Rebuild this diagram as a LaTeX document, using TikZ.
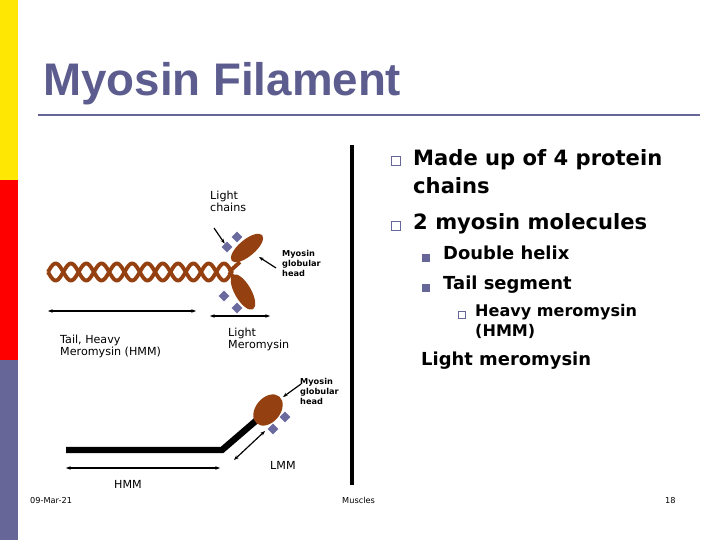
\documentclass[tikz,border=0pt]{standalone}
\usepackage{fontspec}
\setmainfont{DejaVu Sans}
\newfontfamily\titlefont{Liberation Sans}
\usetikzlibrary{arrows.meta,shapes.geometric}
\definecolor{slate}{HTML}{5C5C8E}
\definecolor{brown}{HTML}{944010}
\definecolor{dia}{HTML}{6A6A9E}
\definecolor{bar}{HTML}{666699}
\begin{document}
\begin{tikzpicture}[x=0.03cm,y=-0.03cm,
  lbl/.style={inner sep=0,anchor=north west,align=left,font=\fontsize{9.5}{10.5}\selectfont},
  tiny/.style={inner sep=0,anchor=north west,align=left,font=\bfseries\fontsize{7}{8.5}\selectfont},
  btxt/.style={inner sep=0,anchor=north west,align=left,font=\bfseries\fontsize{18}{24}\selectfont},
  stxt/.style={inner sep=0,anchor=north west,align=left,font=\bfseries\fontsize{15.3}{18}\selectfont},
  foot/.style={inner sep=0,anchor=north west,font=\fontsize{7}{8}\selectfont},
  obul/.style={draw=bar,line width=0.8pt,minimum size=7pt,inner sep=0},
  fbul/.style={fill=bar,minimum size=6pt,inner sep=0},
  dmd/.style={fill=dia,rotate=45,minimum size=6.5pt,inner sep=0},
  dbl/.style={{Stealth[length=4pt]}-{Stealth[length=4pt]},line width=1pt},
  arr/.style={-{Stealth[length=4pt]},line width=1pt},
  head/.style={fill=brown,ellipse,inner sep=0}]
\useasboundingbox (0,0) rectangle (720,540);
\fill[yellow!90!orange] (0,0) rectangle (18,180);
\fill[red] (0,180) rectangle (18,360);
\fill[bar] (0,360) rectangle (18,540);
\node[inner sep=0,anchor=west,text=slate,font=\titlefont\bfseries\fontsize{39}{42}\selectfont] (title) at (43,84) {Myosin Filament};
\draw[bar,line width=2pt] (38,115) coordinate (u1) -- (700,115) coordinate (u2);
\draw[line width=4pt] (352,145) coordinate (v1) -- (352,485) coordinate (v2);
% bullets
\node[obul] (b1) at (396,161) {};
\node[btxt] (t1) at (413,149) {Made up of 4 protein\\chains};
\node[obul] (b2) at (396,226) {};
\node[btxt] (t2) at (413,213) {2 myosin molecules};
\node[fbul] (b3) at (426,258) {};
\node[stxt] (t3) at (443,246) {Double helix};
\node[fbul] (b4) at (426,288) {};
\node[stxt] (t4) at (443,276) {Tail segment};
\node[obul,minimum size=6pt] (b5) at (462,315) {};
\node[stxt,font=\bfseries\fontsize{13.7}{17}\selectfont] (t5) at (475,304) {Heavy meromysin\\(HMM)};
\node[stxt] (t6) at (421,352) {Light meromysin};
% helix
\foreach \s in {1,-1}
  \draw[brown,line width=3.3pt,domain=48:232,samples=200,smooth] plot (\x,{272+\s*8.5*sin(deg((\x-48)*pi/15.3))});
\draw[brown,line width=3.3pt] (229,272) -- (240,262) (229,272) -- (240,284);
\node[head,minimum width=34pt,minimum height=14pt,rotate=40] (h1) at (247,248) {};
\node[head,minimum width=34pt,minimum height=14pt,rotate=-60] (h2) at (243,292) {};
\node[dmd] (d1) at (227,247) {};
\node[dmd] (d2) at (237,237) {};
\node[dmd] (d3) at (224,296) {};
\node[dmd] (d4) at (237,308) {};
\node[lbl] (lc) at (210,191) {Light\\chains};
\coordinate (lca) at (214,228);
\draw[arr] (lca) -- (d1);
\node[tiny] (mg1) at (282,250) {Myosin\\globular\\head};
\coordinate (mga) at (276,268);
\draw[arr] (mga) -- (259,257);
\coordinate (a1) at (48,311); \coordinate (a2) at (196,311);
\draw[dbl] (a1) -- (a2);
\coordinate (a3) at (210,316); \coordinate (a4) at (270,316);
\draw[dbl] (a3) -- (a4);
\node[lbl] (tail) at (60,335) {Tail, Heavy\\Meromysin (HMM)};
\node[lbl] (lm) at (228,328) {Light\\Meromysin};
% bottom
\coordinate (r1) at (66,450); \coordinate (r2) at (222,450); \coordinate (r3) at (258,419);
\draw[line width=5.5pt] (r1) -- (r2) -- (r3);
\node[head,minimum width=30pt,minimum height=21pt,rotate=50] (h3) at (268,410) {};
\node[dmd] (d5) at (285,417) {};
\node[dmd] (d6) at (273,429) {};
\node[tiny] (mg2) at (300,378) {Myosin\\globular\\head};
\coordinate (mgb) at (301,384);
\draw[arr] (mgb) -- (283,397);
\coordinate (a5) at (66,468); \coordinate (a6) at (220,468);
\draw[dbl] (a5) -- (a6);
\coordinate (a7) at (234,460); \coordinate (a8) at (265,431);
\draw[dbl] (a7) -- (a8);
\node[lbl] (lmm) at (270,461) {LMM};
\node[lbl] (hmm) at (114,480) {HMM};
% footer
\node[foot] (f1) at (30,497) {09-Mar-21};
\node[foot] (f2) at (342,497) {Muscles};
\node[foot] (f3) at (665,497) {18};
\end{tikzpicture}
\end{document}
